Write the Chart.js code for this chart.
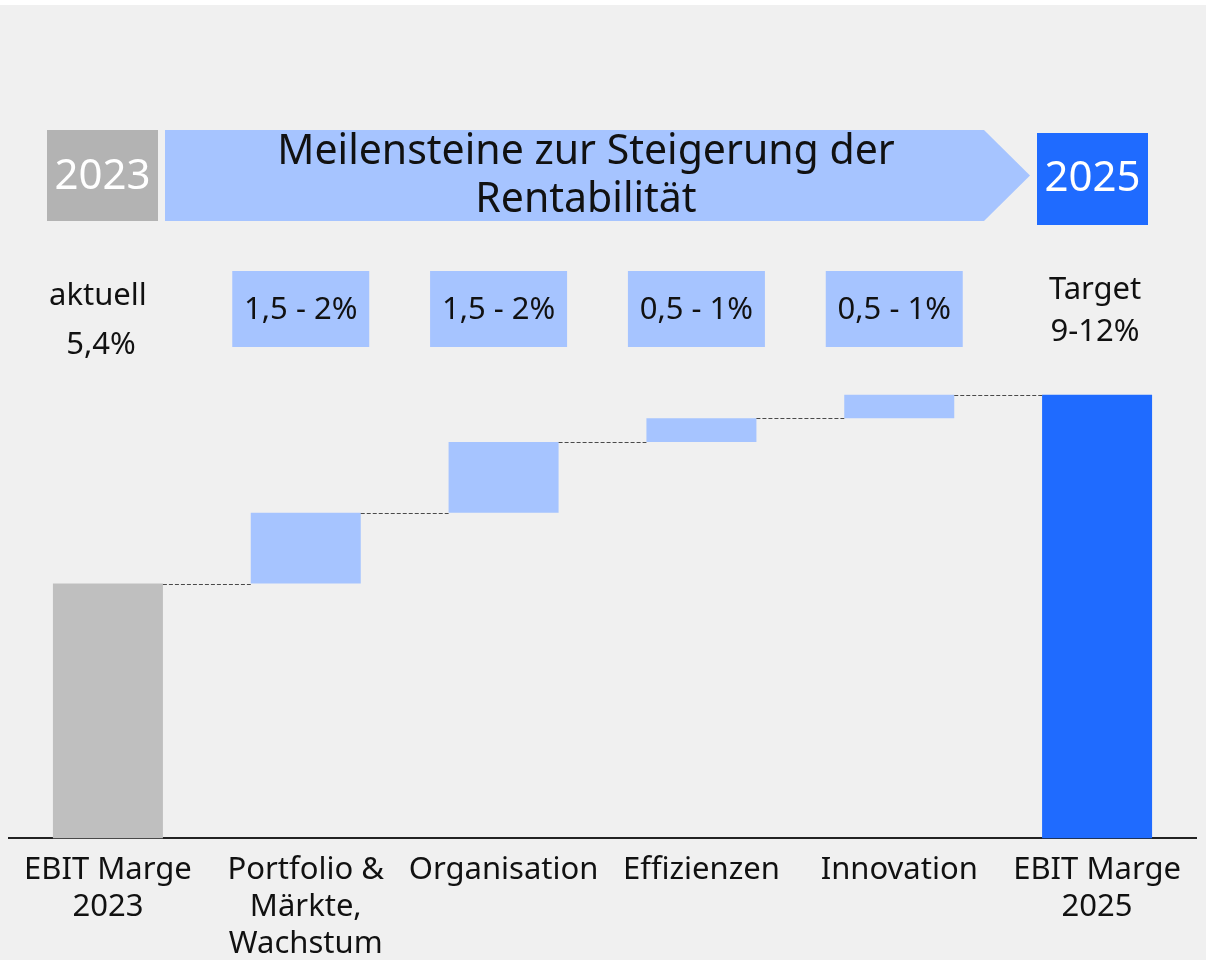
<!DOCTYPE html>
<html lang="de">
<head>
<meta charset="utf-8">
<title>Meilensteine zur Steigerung der Rentabilität</title>
<script src="https://cdn.jsdelivr.net/npm/chart.js@4.4.1/dist/chart.umd.min.js"></script>
<style>
  html, body { margin: 0; padding: 0; background: #ffffff; }
  #wrap { position: absolute; left: 0; top: 5px; width: 1206px; height: 955px; background: #f0f0f0; }
</style>
</head>
<body>
<div id="wrap"><canvas id="chart" width="1206" height="955"></canvas></div>
<script>
// Daten
const categories = [["EBIT Marge", "2023"], ["Portfolio &", "Märkte,", "Wachstum"], "Organisation", "Effizienzen", "Innovation", ["EBIT Marge", "2025"]];
const startMargin = 5.4;
const steps = [1.5, 1.5, 0.5, 0.5];
const targetMargin = 9.4;
const stepLabels = ["1,5 - 2%", "1,5 - 2%", "0,5 - 1%", "0,5 - 1%"];
const startLabel = ["aktuell", "5,4%"];
const targetLabel = ["Target", "9-12%"];
const titleLines = ["Meilensteine zur Steigerung der", "Rentabilität"];
const yearFrom = "2023";
const yearTo = "2025";

const FONT = "'Noto Sans', sans-serif";
const GREY = "#bfbfbf";
const LIGHT = "#a6c4ff";
const BLUE = "#1f6bff";

// Wasserfall: schwebende Balken [von, bis]
let run = startMargin;
const ranges = [[0, startMargin]];
steps.forEach(s => {
  ranges.push([run, run + s]);
  run += s;
});
ranges.push([0, targetMargin]);

const barColors = [GREY, ...steps.map(() => LIGHT), BLUE];

// Kopfzeile, Beschriftungen und Verbindungslinien
const extrasPlugin = {
  id: "extras",
  afterDatasetsDraw(chart) {
    const ctx = chart.ctx;
    const y = chart.scales.y;
    const bars = chart.getDatasetMeta(0).data;

    // gestrichelte Verbinder
    ctx.save();
    ctx.strokeStyle = "#4a4a4a";
    ctx.lineWidth = 1;
    ctx.setLineDash([4, 2]);
    for (let i = 0; i < bars.length - 1; i++) {
      const level = Math.round(y.getPixelForValue(ranges[i][1])) + 0.5;
      ctx.beginPath();
      ctx.moveTo(bars[i].x + bars[i].width / 2, level);
      ctx.lineTo(bars[i + 1].x - bars[i + 1].width / 2, level);
      ctx.stroke();
    }
    ctx.restore();
  },
  afterDraw(chart) {
    const ctx = chart.ctx;
    const x = chart.scales.x;
    ctx.save();
    ctx.textAlign = "center";
    ctx.textBaseline = "middle";

    // 2023 Kasten
    ctx.fillStyle = "#b3b3b3";
    ctx.fillRect(47, 125, 111, 91);
    ctx.fillStyle = "#ffffff";
    ctx.font = "42px " + FONT;
    ctx.fillText(yearFrom, 102.5, 172);

    // Pfeil
    ctx.fillStyle = LIGHT;
    ctx.beginPath();
    ctx.moveTo(165, 125);
    ctx.lineTo(984, 125);
    ctx.lineTo(1030, 170.5);
    ctx.lineTo(984, 216);
    ctx.lineTo(165, 216);
    ctx.closePath();
    ctx.fill();
    ctx.fillStyle = "#111111";
    ctx.font = "41px " + FONT;
    ctx.fillText(titleLines[0], 586, 147);
    ctx.fillText(titleLines[1], 586, 195);

    // 2025 Kasten
    ctx.fillStyle = BLUE;
    ctx.fillRect(1037, 128, 111, 92);
    ctx.fillStyle = "#ffffff";
    ctx.font = "42px " + FONT;
    ctx.fillText(yearTo, 1092.5, 174);

    // Bandbreiten
    ctx.font = "31px " + FONT;
    stepLabels.forEach((t, i) => {
      const cx = x.getPixelForValue(i + 1) - 5;
      ctx.fillStyle = LIGHT;
      ctx.fillRect(cx - 68.5, 266, 137, 76);
      ctx.fillStyle = "#111111";
      ctx.fillText(t, cx, 305);
    });

    ctx.fillStyle = "#111111";
    const x0 = x.getPixelForValue(0);
    ctx.fillText(startLabel[0], x0 - 10, 291);
    ctx.fillText(startLabel[1], x0 - 7, 340);
    const x5 = x.getPixelForValue(5);
    ctx.fillText(targetLabel[0], x5 - 2, 285);
    ctx.fillText(targetLabel[1], x5 - 2, 327);
    ctx.restore();
  }
};

new Chart(document.getElementById("chart"), {
  type: "bar",
  data: {
    labels: categories,
    datasets: [{
      data: ranges,
      backgroundColor: barColors,
      borderWidth: 0,
      barPercentage: 1,
      categoryPercentage: 0.556
    }]
  },
  options: {
    responsive: false,
    animation: false,
    layout: { padding: { top: 267, left: 9, right: 10, bottom: -16 } },
    plugins: {
      legend: { display: false },
      tooltip: { enabled: false }
    },
    scales: {
      x: {
        grid: { display: false, drawTicks: false },
        border: { display: true, color: "#222222", width: 2 },
        ticks: {
          color: "#111111",
          font: { family: FONT, size: 31, lineHeight: 1.2 },
          padding: 13,
          maxRotation: 0,
          autoSkip: false
        }
      },
      y: {
        display: false,
        min: 0,
        max: 12
      }
    }
  },
  plugins: [extrasPlugin]
});
</script>
</body>
</html>
